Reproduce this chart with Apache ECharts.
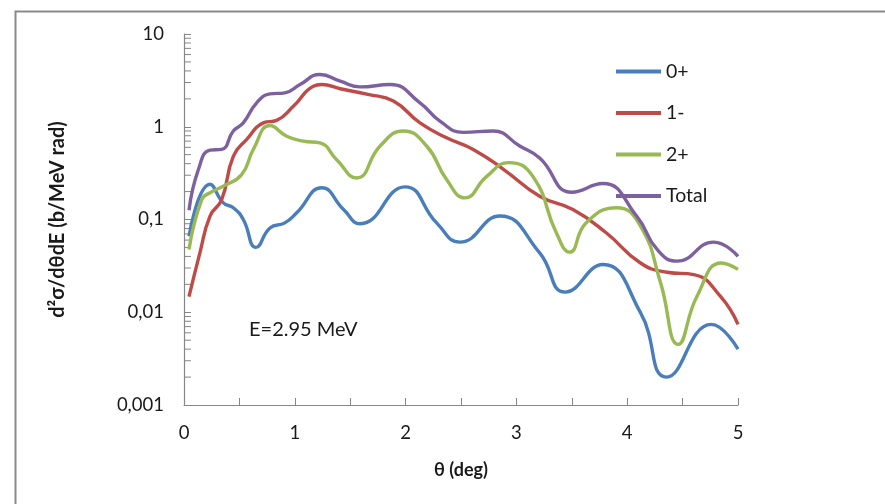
<!DOCTYPE html>
<html>
<head>
<meta charset="utf-8">
<script src="https://cdn.jsdelivr.net/npm/echarts@6/dist/echarts.min.js"></script>
<style>html,body{margin:0;padding:0;background:#fff}#c{width:885px;height:504px}</style>
</head>
<body>
<div id="c"></div>
<script>
// ---- data (theta in deg, cross section in b/MeV rad) ----
const thetaA = [0.045,0.235,0.355,0.445,0.535,0.65,0.776,0.91,1.017,1.243,1.44,1.59,1.995,2.28,2.49,2.85,3.21,3.44,3.78,4.12,4.356,4.76,5.0];
const s0plus = [0.066,0.24,0.151,0.134,0.1,0.05,0.081,0.092,0.118,0.22,0.128,0.09,0.225,0.092,0.057,0.109,0.0437,0.0165,0.0327,0.0099,0.002,0.0074,0.004];

const thetaB = [0.045,0.144,0.235,0.34,0.445,0.566,0.716,0.836,0.987,1.167,1.243,1.41,1.66,1.89,2.13,2.37,2.61,2.88,3.21,3.51,3.81,4.12,4.36,4.60,4.84,5.0];
const s1minus = [0.0147,0.044,0.109,0.164,0.48,0.73,1.1,1.17,1.66,2.73,2.85,2.57,2.23,1.89,1.1,0.76,0.57,0.35,0.178,0.128,0.072,0.034,0.027,0.0255,0.0149,0.0074];

const thetaC = [0.045,0.16,0.235,0.355,0.52,0.626,0.776,0.927,1.077,1.227,1.378,1.558,1.77,1.98,2.19,2.37,2.536,2.73,2.93,3.15,3.36,3.48,3.63,3.905,4.12,4.30,4.46,4.63,4.85,5.0];
const s2plus = [0.0475,0.164,0.194,0.229,0.305,0.57,1.03,0.79,0.70,0.67,0.44,0.28,0.62,0.90,0.62,0.27,0.171,0.29,0.41,0.29,0.072,0.0445,0.092,0.134,0.085,0.021,0.0045,0.0149,0.034,0.029];

const thetaD = [0.045,0.13,0.235,0.34,0.445,0.535,0.656,0.776,0.91,1.047,1.227,1.41,1.588,1.86,2.13,2.31,2.52,2.79,3.03,3.21,3.50,3.78,4.085,4.27,4.45,4.78,5.0];
const sTotal = [0.126,0.346,0.56,0.57,0.9,1.1,1.81,2.26,2.32,2.85,3.66,3.1,2.69,2.85,1.81,1.15,0.87,0.9,0.62,0.46,0.197,0.244,0.109,0.0475,0.0356,0.057,0.040];

const seriesNames = ['0+','1-','2+','Total'];
const yTickLabels = {10:'10',1:'1',0.1:'0,1',0.01:'0,01',0.001:'0,001'};
const minorTickValues = [];
[0.001,0.01,0.1,1].forEach(d => { for (let k = 2; k <= 9; k++) minorTickValues.push(+(k*d).toPrecision(3)); });

const colors = ['#4A7EBB','#BE4B48','#98B954','#7D60A0'];
const pairs = (xs, ys) => xs.map((x,i) => [x, ys[i]]);
const FONT = 'Lato, "Open Sans", sans-serif';
const TXT = '#1a1a1a';

const chart = echarts.init(document.getElementById('c'), null, {renderer:'canvas'});
const lineSeries = [[thetaA,s0plus],[thetaB,s1minus],[thetaC,s2plus],[thetaD,sTotal]].map((d,i) => ({
  name: seriesNames[i],
  type: 'line',
  data: pairs(d[0], d[1]),
  smooth: 0.5,
  symbol: 'none',
  lineStyle: {width: 3.4, color: colors[i]},
  itemStyle: {color: colors[i]},
  z: 3
}));

chart.setOption({
  animation: false,
  backgroundColor: '#fff',
  grid: {left: 184, right: 147, top: 34, bottom: 99},
  legend: {
    orient: 'vertical',
    left: 616,
    top: 61.5,
    padding: 0,
    icon: 'rect',
    itemWidth: 45,
    itemHeight: 4,
    itemGap: 21.5,
    data: seriesNames,
    textStyle: {fontFamily: FONT, fontSize: 19.5, lineHeight: 20, color: TXT}
  },
  xAxis: {
    type: 'value', min: 0, max: 5, interval: 0.5,
    name: 'θ (deg)', nameLocation: 'middle', nameGap: 56,
    nameTextStyle: {fontFamily: FONT, fontSize: 18, fontWeight: 'bold', color: TXT},
    axisLine: {lineStyle: {color: '#868686', width: 1.2}},
    axisTick: {inside: true, length: 7, lineStyle: {color: '#868686'}},
    splitLine: {show: false},
    axisLabel: {
      fontFamily: FONT, fontSize: 18.5, color: TXT, margin: 19,
      formatter: v => (Math.abs(v - Math.round(v)) < 1e-9 ? String(Math.round(v)) : '')
    }
  },
  yAxis: {
    type: 'log', logBase: 10, min: 0.001, max: 10,
    name: 'd²σ/dθdE (b/MeV rad)', nameLocation: 'middle', nameRotate: 90, nameGap: 116,
    nameTextStyle: {fontFamily: FONT, fontSize: 20, fontWeight: 'bold', color: TXT},
    axisLine: {show: true, lineStyle: {color: '#868686', width: 1.2}},
    axisTick: {show: true, inside: true, length: 7, lineStyle: {color: '#868686'}},
    splitLine: {show: false},
    axisLabel: {
      fontFamily: FONT, fontSize: 18.5, color: TXT, margin: 20,
      formatter: v => { const k = +(+v).toPrecision(3); return yTickLabels[k] !== undefined ? yTickLabels[k] : ''; }
    }
  },
  graphic: [
    {type: 'rect', left: 13, top: 9, shape: {width: 900, height: 520}, style: {fill: 'none', stroke: '#8a8a8a', lineWidth: 2}, silent: true, z: -1},
    {type: 'text', left: 249, top: 320, style: {text: 'E=2.95 MeV', font: '20px ' + FONT, fill: TXT}, z: 5}
  ],
  series: lineSeries.concat([{
    name: 'minorTicks',
    type: 'custom',
    silent: true,
    clip: false,
    data: minorTickValues.map(v => [0, v]),
    renderItem: (params, api) => {
      const p = api.coord([0, api.value(1)]);
      return {type: 'line', shape: {x1: p[0], y1: p[1], x2: p[0] + 7, y2: p[1]}, style: {stroke: '#868686', lineWidth: 1}};
    },
    z: 2
  }])
});
</script>
</body>
</html>
